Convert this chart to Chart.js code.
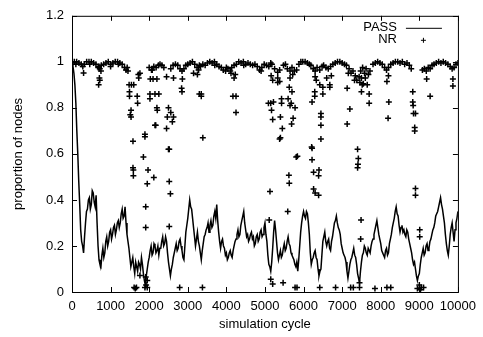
<!DOCTYPE html>
<html>
<head>
<meta charset="utf-8">
<script src="https://cdn.jsdelivr.net/npm/chart.js@4.4.0/dist/chart.umd.min.js"></script>
<style>
  body { margin: 0; background: #fff; }
</style>
</head>
<body>
<canvas id="chart" width="483" height="337"></canvas>
<script>
// PASS: proportion of nodes, every 50 cycles
const passCycle = [
  0,50,100,150,200,250,300,350,400,450,
  500,550,600,650,700,750,800,850,900,950,
  1000,1050,1100,1150,1200,1250,1300,1350,1400,1450,
  1500,1550,1600,1650,1700,1750,1800,1850,1900,1950,
  2000,2050,2100,2150,2200,2250,2300,2350,2400,2450,
  2500,2550,2600,2650,2700,2750,2800,2850,2900,2950,
  3000,3050,3100,3150,3200,3250,3300,3350,3400,3450,
  3500,3550,3600,3650,3700,3750,3800,3850,3900,3950,
  4000,4050,4100,4150,4200,4250,4300,4350,4400,4450,
  4500,4550,4600,4650,4700,4750,4800,4850,4900,4950,
  5000,5050,5100,5150,5200,5250,5300,5350,5400,5450,
  5500,5550,5600,5650,5700,5750,5800,5850,5900,5950,
  6000,6050,6100,6150,6200,6250,6300,6350,6400,6450,
  6500,6550,6600,6650,6700,6750,6800,6850,6900,6950,
  7000,7050,7100,7150,7200,7250,7300,7350,7400,7450,
  7500,7550,7600,7650,7700,7750,7800,7850,7900,7950,
  8000,8050,8100,8150,8200,8250,8300,8350,8400,8450,
  8500,8550,8600,8650,8700,8750,8800,8850,8900,8950,
  9000,9050,9100,9150,9200,9250,9300,9350,9400,9450,
  9500,9550,9600,9650,9700,9750,9800,9850,9900,9950,
  10000
];
const passValue = [
  1.0,0.95,0.82,0.6,0.38,0.22,0.17,0.3,0.36,0.41,
  0.38,0.43,0.37,0.3,0.14,0.11,0.19,0.17,0.24,0.22,
  0.27,0.25,0.29,0.27,0.31,0.3,0.36,0.33,0.3,0.22,
  0.15,0.13,0.11,0.13,0.09,0.12,0.15,0.08,0.03,0.1,
  0.15,0.2,0.17,0.2,0.18,0.16,0.19,0.24,0.21,0.22,
  0.13,0.07,0.12,0.17,0.21,0.19,0.23,0.18,0.14,0.26,
  0.32,0.4,0.36,0.28,0.2,0.26,0.2,0.14,0.21,0.25,
  0.28,0.26,0.31,0.29,0.35,0.38,0.26,0.19,0.23,0.19,
  0.17,0.15,0.18,0.15,0.2,0.23,0.27,0.25,0.31,0.35,
  0.27,0.25,0.23,0.26,0.24,0.21,0.25,0.23,0.27,0.25,
  0.3,0.22,0.12,0.09,0.19,0.31,0.22,0.14,0.18,0.16,
  0.21,0.19,0.24,0.2,0.16,0.14,0.11,0.09,0.2,0.3,
  0.35,0.32,0.34,0.25,0.12,0.15,0.18,0.14,0.07,0.1,
  0.22,0.26,0.2,0.23,0.18,0.24,0.3,0.33,0.28,0.25,
  0.19,0.16,0.13,0.06,0.12,0.15,0.19,0.15,0.08,0.04,
  0.13,0.17,0.19,0.16,0.18,0.2,0.23,0.27,0.31,0.25,
  0.21,0.17,0.15,0.19,0.17,0.23,0.28,0.32,0.37,0.33,
  0.26,0.29,0.27,0.24,0.26,0.21,0.17,0.12,0.1,0.05,
  0.08,0.15,0.19,0.17,0.21,0.19,0.23,0.27,0.3,0.34,
  0.37,0.41,0.36,0.3,0.21,0.16,0.25,0.3,0.22,0.3,
  0.35
];
// PASS in between those samples (cycles 25, 75, ... 9975) for the jitter
const passMidCycle = [
  25,75,125,175,225,275,325,375,425,475,
  525,575,625,675,725,775,825,875,925,975,
  1025,1075,1125,1175,1225,1275,1325,1375,1425,1475,
  1525,1575,1625,1675,1725,1775,1825,1875,1925,1975,
  2025,2075,2125,2175,2225,2275,2325,2375,2425,2475,
  2525,2575,2625,2675,2725,2775,2825,2875,2925,2975,
  3025,3075,3125,3175,3225,3275,3325,3375,3425,3475,
  3525,3575,3625,3675,3725,3775,3825,3875,3925,3975,
  4025,4075,4125,4175,4225,4275,4325,4375,4425,4475,
  4525,4575,4625,4675,4725,4775,4825,4875,4925,4975,
  5025,5075,5125,5175,5225,5275,5325,5375,5425,5475,
  5525,5575,5625,5675,5725,5775,5825,5875,5925,5975,
  6025,6075,6125,6175,6225,6275,6325,6375,6425,6475,
  6525,6575,6625,6675,6725,6775,6825,6875,6925,6975,
  7025,7075,7125,7175,7225,7275,7325,7375,7425,7475,
  7525,7575,7625,7675,7725,7775,7825,7875,7925,7975,
  8025,8075,8125,8175,8225,8275,8325,8375,8425,8475,
  8525,8575,8625,8675,8725,8775,8825,8875,8925,8975,
  9025,9075,9125,9175,9225,9275,9325,9375,9425,9475,
  9525,9575,9625,9675,9725,9775,9825,9875,9925,9975
];
const passMidValue = [
  0.98,0.9,0.7,0.48,0.27,0.2,0.24,0.35,0.4,0.36,
  0.44,0.39,0.42,0.2,0.12,0.16,0.15,0.22,0.2,0.26,
  0.23,0.28,0.25,0.3,0.28,0.34,0.32,0.37,0.25,0.19,
  0.11,0.15,0.08,0.11,0.13,0.1,0.12,0.05,0.07,0.13,
  0.18,0.16,0.21,0.17,0.2,0.19,0.22,0.2,0.24,0.17,
  0.1,0.1,0.15,0.19,0.18,0.22,0.2,0.15,0.2,0.29,
  0.36,0.37,0.32,0.24,0.23,0.22,0.17,0.18,0.24,0.27,
  0.3,0.29,0.28,0.33,0.32,0.31,0.22,0.22,0.2,0.16,
  0.14,0.17,0.16,0.18,0.22,0.25,0.24,0.29,0.33,0.3,
  0.24,0.22,0.25,0.23,0.2,0.24,0.22,0.26,0.24,0.28,
  0.25,0.16,0.11,0.13,0.26,0.27,0.17,0.16,0.15,0.19,
  0.18,0.22,0.21,0.17,0.15,0.12,0.13,0.14,0.26,0.33,
  0.33,0.35,0.3,0.17,0.14,0.17,0.15,0.1,0.09,0.16,
  0.24,0.22,0.22,0.19,0.22,0.27,0.31,0.3,0.27,0.21,
  0.17,0.15,0.09,0.09,0.14,0.17,0.16,0.12,0.06,0.09,
  0.16,0.2,0.17,0.19,0.17,0.22,0.25,0.29,0.28,0.23,
  0.18,0.16,0.18,0.16,0.21,0.25,0.3,0.35,0.34,0.29,
  0.28,0.26,0.25,0.27,0.23,0.19,0.14,0.13,0.07,0.07,
  0.12,0.17,0.16,0.2,0.18,0.22,0.25,0.28,0.33,0.35,
  0.39,0.38,0.33,0.25,0.18,0.2,0.28,0.26,0.27,0.32
];

// NR: the band near 1 first, then the scattered points
const nrCycle = [
  0,60,100,120,180,240,280,320,380,440,
  460,500,560,620,680,700,720,760,820,880,
  940,1000,1000,1060,1120,1180,1200,1240,1300,1360,
  1400,2000,2060,2120,2180,2240,2280,2330,2380,2560,
  2620,2680,2740,2800,2850,2900,2950,3000,3060,3120,
  3180,3240,3280,3300,3330,3390,3450,3510,3570,3630,
  3690,3700,3750,3810,3870,3920,3980,4000,4040,4100,
  4140,4200,4260,4320,4380,4440,4450,4500,4560,4620,
  4680,4740,4800,4860,4900,4920,4980,5040,5100,5150,
  5180,5250,5330,5380,5480,5530,5580,5650,5700,5760,
  5820,5880,5930,5980,6040,6100,6150,6190,6250,6300,
  6350,6420,6480,6520,6580,6640,6700,6760,6820,6880,
  6940,7000,7060,7110,7180,7230,7280,7340,7380,7440,
  7480,7530,7580,7620,7680,7720,7800,7860,7920,7980,
  8040,8100,8150,8200,8260,8320,8380,8440,8500,8560,
  8620,8680,8740,8790,9080,9130,9180,9230,9280,9330,
  9380,9440,9500,9560,9620,9680,9740,9800,9850,9900,
  9950,10000,
  300,750,710,720,690,1430,1450,1480,1540,1600,
  1490,1490,1510,1530,1530,1580,1580,1590,1590,1720,
  1730,1760,1690,1700,1890,1890,1970,1850,1950,1910,
  1910,2080,2030,2100,2200,2150,2250,2020,2020,2150,
  2170,2200,2210,2120,2450,2450,2500,2560,2630,2470,
  2600,2500,2520,2630,2520,2550,2520,2840,2850,2860,
  3300,3350,3350,3390,4170,4250,4250,4200,4120,5090,
  5150,5220,5170,5200,5380,5400,5400,5430,5430,5330,
  5380,5450,5630,5700,5600,5680,5780,5730,5690,5650,
  5840,6220,6220,6220,6290,6290,6450,6450,6450,6450,
  6500,6500,6400,6680,6680,7130,7200,7130,7400,7420,
  7410,7400,7500,7520,7500,7700,7700,8160,8210,8190,
  8830,8830,8840,8850,8900,8880,8880,9190,9280,9870,
  9870,5130,5620,5630,5590,5810,6210,6260,6390,6260,
  6300,6390,8900,8900,5110,7490,7480,9010,9010,5160,
  5200,5330,5650,5720,6300,6330,6420,7160,7320,7460,
  7550,7600,7650,8200,6600,6720,3150,3250,4230,1610,
  1640,1670,1760,1890,1920,1950,1950,1910,2790,3380,
  5150,5200,5470,5780,5830,6420,6830,7220,7290,7450,
  7450,7850,8160,8260,8950,9000,9050,9110,9030
];
const nrValue = [
  1.0,1.0,0.99,1.0,0.995,0.99,0.98,0.99,1.0,1.0,
  0.99,1.0,0.995,0.99,0.975,0.98,0.97,0.985,0.99,0.995,
  1.0,0.99,0.98,0.995,1.0,1.0,0.99,0.995,0.99,0.975,
  0.965,0.975,0.965,0.98,0.975,0.985,0.99,0.985,0.975,0.97,
  0.985,0.99,0.985,0.97,0.96,0.97,0.985,0.99,0.995,1.0,
  0.99,0.975,0.965,0.985,0.98,0.99,0.985,0.995,1.0,0.995,
  1.0,0.985,0.99,0.98,0.975,0.965,0.96,0.975,0.97,0.96,
  0.975,0.985,0.99,1.0,0.995,1.0,0.985,0.99,0.995,0.99,
  0.985,0.99,0.98,0.965,0.96,0.975,0.99,0.985,0.98,0.995,
  0.99,0.97,0.955,0.965,0.985,0.99,0.97,0.96,0.975,0.96,
  0.965,0.99,1.0,1.0,1.0,0.995,0.99,0.985,0.97,0.96,
  0.975,0.965,0.98,0.985,0.975,0.97,0.98,0.99,0.995,1.0,
  1.0,0.995,0.99,0.985,0.97,0.95,0.96,0.94,0.92,0.935,
  0.96,0.975,0.95,0.97,0.945,0.96,0.99,0.995,1.0,0.995,
  0.99,0.975,0.965,0.975,0.99,0.995,1.0,1.0,0.995,1.0,
  0.99,0.995,0.985,0.97,0.965,0.97,0.96,0.975,0.97,0.985,
  0.99,0.995,1.0,0.995,1.0,0.995,0.99,0.98,0.97,0.975,
  0.99,0.995,
  0.952,0.96,0.93,0.92,0.9,0.975,0.96,0.9,0.9,0.9,
  0.87,0.85,0.77,0.79,0.76,0.655,0.54,0.53,0.505,0.945,
  0.93,0.95,0.85,0.82,0.685,0.675,0.53,0.587,0.47,0.37,
  0.28,0.965,0.925,0.925,0.925,0.86,0.86,0.86,0.84,0.725,
  0.725,0.8,0.79,0.497,0.935,0.71,0.8,0.78,0.76,0.76,
  0.74,0.62,0.62,0.93,0.48,0.427,0.285,0.885,0.87,0.925,
  0.86,0.86,0.85,0.67,0.85,0.85,0.78,0.93,0.95,0.82,
  0.82,0.825,0.79,0.75,0.665,0.67,0.76,0.84,0.82,0.93,
  0.915,0.71,0.89,0.87,0.84,0.82,0.8,0.755,0.73,0.81,
  0.59,0.825,0.625,0.575,0.87,0.85,0.775,0.76,0.725,0.665,
  0.89,0.86,0.53,0.9,0.89,0.885,0.795,0.73,0.62,0.58,
  0.555,0.54,0.93,0.9,0.87,0.86,0.82,0.915,0.825,0.755,
  0.87,0.825,0.81,0.775,0.775,0.715,0.7,0.925,0.85,0.925,
  0.895,0.437,0.507,0.472,0.35,0.587,0.63,0.52,0.505,0.447,
  0.43,0.42,0.45,0.42,0.313,0.313,0.23,0.27,0.24,0.94,
  0.92,0.91,0.93,0.945,0.935,0.92,0.9,0.95,0.92,0.91,
  0.905,0.93,0.9,0.94,0.93,0.94,0.95,0.945,0.945,0.02,
  0.015,0.02,0.072,0.02,0.03,0.02,0.05,0.065,0.02,0.02,
  0.055,0.035,0.04,0.02,0.02,0.02,0.02,0.02,0.02,0.04,
  0.02,0.015,0.02,0.02,0.015,0.03,0.02,0.02,0.01
];

const xTicks = [0,1000,2000,3000,4000,5000,6000,7000,8000,9000,10000];
const yTicks = [0,0.2,0.4,0.6,0.8,1,1.2];

const FONT = { family: "'Liberation Sans', Arial, sans-serif", size: 13 };

// both PASS lists together, in cycle order
const passPoints = passCycle.map((c, i) => ({ x: c, y: passValue[i] }))
  .concat(passMidCycle.map((c, i) => ({ x: c, y: passMidValue[i] })))
  .sort((a, b) => a.x - b.x);

// gnuplot style frame with inward ticks and the legend in the top right
const frame = {
  id: 'frame',
  afterDraw(chart) {
    const { ctx, chartArea: a, scales: { x, y } } = chart;
    ctx.save();
    ctx.strokeStyle = '#000';
    ctx.lineWidth = 1;
    ctx.strokeRect(a.left + 0.5, a.top + 0.5, a.right - a.left, a.bottom - a.top);
    ctx.beginPath();
    xTicks.forEach(v => {
      const px = Math.round(x.getPixelForValue(v)) + 0.5;
      ctx.moveTo(px, a.bottom); ctx.lineTo(px, a.bottom - 5);
      ctx.moveTo(px, a.top); ctx.lineTo(px, a.top + 5);
    });
    yTicks.forEach(v => {
      const py = Math.round(y.getPixelForValue(v)) + 0.5;
      ctx.moveTo(a.left, py); ctx.lineTo(a.left + 5, py);
      ctx.moveTo(a.right, py); ctx.lineTo(a.right - 5, py);
    });
    ctx.stroke();

    // legend
    const ds = chart.data.datasets;
    ctx.font = FONT.size + 'px ' + FONT.family;
    ctx.fillStyle = '#000';
    ctx.textAlign = 'right';
    ctx.textBaseline = 'middle';
    const tx = a.right - 61, ly1 = a.top + 12, ly2 = a.top + 24;
    ctx.fillText(ds[0].label, tx, ly1);
    ctx.fillText(ds[1].label, tx, ly2);
    ctx.beginPath();
    ctx.moveTo(tx + 9, ly1 + 0.5); ctx.lineTo(tx + 45, ly1 + 0.5);
    ctx.moveTo(tx + 24, ly2 + 0.5); ctx.lineTo(tx + 29, ly2 + 0.5);
    ctx.moveTo(tx + 26.5, ly2 - 2); ctx.lineTo(tx + 26.5, ly2 + 3);
    ctx.stroke();
    ctx.restore();
  }
};

new Chart(document.getElementById('chart'), {
  type: 'scatter',
  data: {
    datasets: [
      {
        label: 'PASS',
        data: passPoints,
        showLine: true,
        borderColor: '#000',
        borderWidth: 1.5,
        pointRadius: 0,
        tension: 0
      },
      {
        label: 'NR',
        data: nrCycle.map((c, i) => ({ x: c, y: nrValue[i] })),
        showLine: false,
        pointStyle: 'cross',
        pointRadius: 3,
        pointBorderWidth: 1.5,
        borderColor: '#000',
        backgroundColor: '#000'
      }
    ]
  },
  options: {
    responsive: false,
    animation: false,
    devicePixelRatio: 1,
    layout: { padding: { top: 10, right: 20, left: 0, bottom: 0 } },
    plugins: { legend: { display: false }, tooltip: { enabled: false } },
    scales: {
      x: {
        type: 'linear',
        min: 0, max: 10000,
        afterFit: s => { s.height = 45; },
        afterBuildTicks: s => { s.ticks = xTicks.map(v => ({ value: v })); },
        grid: { display: false, drawTicks: false },
        border: { display: false },
        ticks: { color: '#000', font: FONT, padding: 7, maxRotation: 0, autoSkip: false, callback: v => String(v) },
        title: { display: true, text: 'simulation cycle', color: '#000', font: FONT, padding: { top: 0, bottom: 5 } }
      },
      y: {
        type: 'linear',
        min: 0, max: 1.2,
        afterFit: s => { s.width = 72; },
        afterBuildTicks: s => { s.ticks = yTicks.map(v => ({ value: v })); },
        grid: { display: false, drawTicks: false },
        border: { display: false },
        ticks: { color: '#000', font: FONT, padding: 8, callback: v => String(Math.round(v * 10) / 10) },
        title: { display: true, text: 'proportion of nodes', color: '#000', font: FONT, padding: { top: 11, bottom: 0 } }
      }
    }
  },
  plugins: [frame]
});
</script>
</body>
</html>
